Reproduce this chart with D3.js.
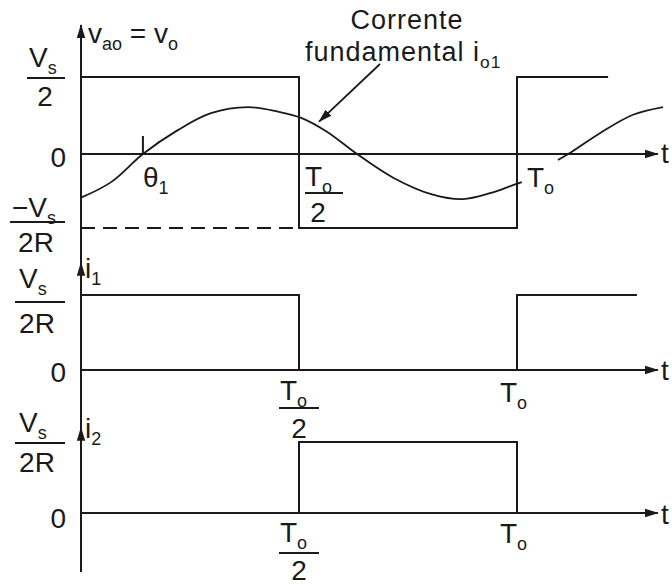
<!DOCTYPE html>
<html>
<head>
<meta charset="utf-8">
<script src="https://cdn.jsdelivr.net/npm/d3@7"></script>
<style>
  html, body { margin: 0; padding: 0; background: #fff; }
  svg { display: block; }
  text { font-family: "Liberation Sans", Arial, Helvetica, sans-serif; fill: #1a1a1a; }
</style>
</head>
<body>
<svg id="chart" width="672" height="585"></svg>
<script>
// Time is measured in periods T_o; amplitudes are normalised (Vs/2 or Vs/2R = 1).

// Output voltage v_ao: step-after levels
const vaoT = [0, 0.5, 1, 1.209];
const vaoV = [1, -1, 1, 1];

// Switch current i1: step-after levels
const i1T = [0, 0.5, 1, 1.275];
const i1V = [1, 0, 1, 1];

// Switch current i2: step-after levels
const i2T = [0.5, 0.5, 1];
const i2V = [0, 1, 0];

// Fundamental current i_o1, first stretch (up to just past T_o)
const fundT1 = [0, 0.069, 0.142, 0.222, 0.298, 0.383, 0.452, 0.505, 0.564, 0.633, 0.716, 0.807, 0.876, 0.938, 0.991, 1.011];
const fundV1 = [-0.59, -0.38, 0, 0.31, 0.53, 0.61, 0.55, 0.47, 0.29, 0, -0.32, -0.55, -0.61, -0.53, -0.42, -0.38];
// second stretch, after the T_o label
const fundT2 = [1.094, 1.126, 1.190, 1.266, 1.335];
const fundV2 = [-0.08, 0.03, 0.27, 0.51, 0.61];

// Phase angle of the fundamental
const theta1 = 0.142;
// Extent of the time axes
const tAxisEnd = 1.323;

// Text labels
const levelLabels = { top: ["V", "s", "2"], neg: ["−V", "s", "2R"], cur: ["V", "s", "2R"], zero: "0" };
const timeLabels = { half: ["T", "o", "2"], full: ["T", "o"], theta: ["θ", "1"], axis: "t" };
const annotation = ["Corrente", "fundamental i", "o1"];

const svg = d3.select("#chart");
const ink = "#1a1a1a";

const x = d3.scaleLinear().domain([0, 1]).range([81, 517]);
const y1 = d3.scaleLinear().domain([-1, 0, 1]).range([228, 154, 77]);
const y2 = d3.scaleLinear().domain([0, 1]).range([370, 295]);
const y3 = d3.scaleLinear().domain([0, 1]).range([513, 442]);

// arrowhead marker
const defs = svg.append("defs");
defs.append("marker")
  .attr("id", "arr")
  .attr("viewBox", "0 -5 14 10")
  .attr("refX", 13).attr("refY", 0)
  .attr("markerWidth", 14).attr("markerHeight", 10)
  .attr("markerUnits", "userSpaceOnUse")
  .attr("orient", "auto")
  .append("path").attr("d", "M0,-4.2L14,0L0,4.2Z").attr("fill", ink);

const g = svg.append("g").attr("fill", "none").attr("stroke", ink).attr("stroke-width", 2);

// vertical axis (shared by the three plots) with arrow tips
const x0 = x(0);
g.append("line").attr("x1", x0).attr("x2", x0).attr("y1", y3(-0.83)).attr("y2", y1(1.675));
[[y1(1.675)], [y2(1.43)], [y3(1.2)]].forEach(([tip]) => {
  g.append("line").attr("x1", x0).attr("x2", x0).attr("y1", tip + 14).attr("y2", tip)
    .attr("marker-end", "url(#arr)");
});

// horizontal time axes
[y1(0), y2(0), y3(0)].forEach(yy => {
  g.append("line").attr("x1", x0).attr("x2", x(tAxisEnd)).attr("y1", yy).attr("y2", yy)
    .attr("marker-end", "url(#arr)");
});

const stepLine = (ys) => d3.line().x(d => x(d[0])).y(d => ys(d[1])).curve(d3.curveStepAfter);
const zip = (a, b) => a.map((d, i) => [d, b[i]]);

// v_ao square wave
g.append("path").attr("d", stepLine(y1)(zip(vaoT, vaoV)));
// dashed -Vs/2 reference up to T/2
g.append("line").attr("x1", x0).attr("x2", x(0.5)).attr("y1", y1(-1)).attr("y2", y1(-1))
  .attr("stroke-dasharray", "14,8");

// i1 and i2
g.append("path").attr("d", stepLine(y2)(zip(i1T, i1V)));
g.append("path").attr("d", stepLine(y3)(zip(i2T, i2V)));

// fundamental current
const smooth = d3.line().x(d => x(d[0])).y(d => y1(d[1])).curve(d3.curveCatmullRom);
g.append("path").attr("stroke-width", 1.8).attr("d", smooth(zip(fundT1, fundV1)));
g.append("path").attr("stroke-width", 1.8).attr("d", smooth(zip(fundT2, fundV2)));

// theta1 tick
g.append("line").attr("x1", x(theta1)).attr("x2", x(theta1)).attr("y1", y1(0)).attr("y2", y1(0) - 18);

// annotation arrow
g.append("line").attr("x1", 380).attr("y1", 64)
  .attr("x2", x(0.546)).attr("y2", y1(0.42))
  .attr("stroke-width", 1.8)
  .attr("marker-end", "url(#arr)");

// ---------- text helpers ----------
const MAIN = 28, SUB = 18;
function rich(px, py, parts, anchor, size) {
  const t = svg.append("text").attr("x", px).attr("y", py).attr("text-anchor", anchor || "start")
    .attr("font-size", size || MAIN);
  let shift = 0;
  parts.forEach(([s, sub]) => {
    const target = sub ? 7 : 0;
    t.append("tspan").attr("dy", target - shift)
      .attr("font-size", sub ? SUB * (size || MAIN) / MAIN : (size || MAIN)).text(s);
    shift = target;
  });
  return t;
}
function bar(xa, xb, yy) {
  svg.append("line").attr("x1", xa).attr("x2", xb).attr("y1", yy).attr("y2", yy)
    .attr("stroke", ink).attr("stroke-width", 2);
}

// ---------- level labels ----------
// Vs/2
rich(29, 67, [[levelLabels.top[0]], [levelLabels.top[1], true]]);
bar(27, 65, 78);
rich(45, 106, [[levelLabels.top[2]]], "middle");
// 0
rich(66, 167, [[levelLabels.zero]], "end");
// -Vs/2R
rich(12, 217, [[levelLabels.neg[0]], [levelLabels.neg[1], true]]);
bar(10, 65, 222);
rich(36, 252, [[levelLabels.neg[2]]], "middle");

// i1 panel
rich(19, 288, [[levelLabels.cur[0]], [levelLabels.cur[1], true]]);
bar(15, 65, 302);
rich(37, 333, [[levelLabels.cur[2]]], "middle");
rich(66, 382, [[levelLabels.zero]], "end");

// i2 panel
rich(19, 432, [[levelLabels.cur[0]], [levelLabels.cur[1], true]]);
bar(15, 65, 443);
rich(37, 472, [[levelLabels.cur[2]]], "middle");
rich(66, 528, [[levelLabels.zero]], "end");

// ---------- axis names ----------
rich(88, 43, [["v"], ["ao", true], [" = v"], ["o", true]], "start", 28);
rich(85, 278, [["i"], ["1", true]]);
rich(85, 438, [["i"], ["2", true]]);
[[163], [380], [524]].forEach(([yy]) => rich(661, yy, [[timeLabels.axis]]));

// ---------- time labels ----------
rich(x(theta1), 187, [[timeLabels.theta[0]], [timeLabels.theta[1], true]]);
// T/2 in plot 1
rich(x(0.5) + 6, 186, [[timeLabels.half[0]], [timeLabels.half[1], true]]);
bar(x(0.5) + 6, x(0.5) + 44, 193);
rich(x(0.5) + 19, 222, [[timeLabels.half[2]]], "middle");
// T in plot 1
rich(x(1) + 10, 187, [[timeLabels.full[0]], [timeLabels.full[1], true]]);

// plot 2
rich(x(0.5) - 19, 400, [[timeLabels.half[0]], [timeLabels.half[1], true]]);
bar(x(0.5) - 20, x(0.5) + 20, 408);
rich(x(0.5), 438, [[timeLabels.half[2]]], "middle");
rich(x(1) - 17, 402, [[timeLabels.full[0]], [timeLabels.full[1], true]]);

// plot 3
rich(x(0.5) - 19, 542, [[timeLabels.half[0]], [timeLabels.half[1], true]]);
bar(x(0.5) - 20, x(0.5) + 20, 553);
rich(x(0.5), 580, [[timeLabels.half[2]]], "middle");
rich(x(1) - 17, 543, [[timeLabels.full[0]], [timeLabels.full[1], true]]);

// ---------- annotation ----------
rich(407, 29, [[annotation[0]]], "middle", 27).attr("letter-spacing", 1);
rich(305, 61, [[annotation[1]], [annotation[2], true]], "start", 27).attr("letter-spacing", 1);
</script>
</body>
</html>
